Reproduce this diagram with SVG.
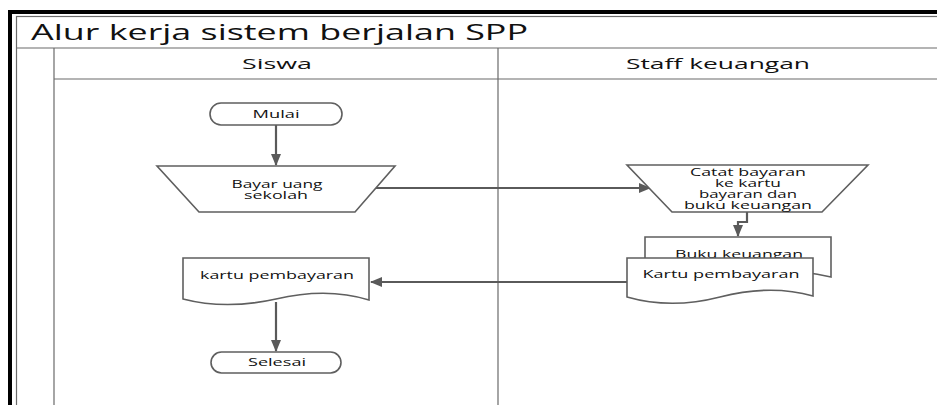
<svg xmlns="http://www.w3.org/2000/svg" width="937" height="405" viewBox="0 0 937 405">
<style>
.shape{fill:#fff;stroke:#5f5f5f;stroke-width:1.6}
.lane{fill:none;stroke:#6a6a6a;stroke-width:1.2}
.conn{fill:none;stroke:#5a5a5a;stroke-width:2.2}
.t{font-family:"Open Sans","DejaVu Sans",sans-serif;font-size:10px;fill:#111;text-anchor:middle}
.h{font-family:"Open Sans","DejaVu Sans",sans-serif;font-size:15px;fill:#111;text-anchor:middle}
</style>
<defs>
<marker id="ah" markerWidth="12" markerHeight="10" refX="11" refY="5" orient="auto" markerUnits="userSpaceOnUse" viewBox="0 0 12 10">
<path d="M0,0 L12,5 L0,10 Z" fill="#5a5a5a"/>
</marker>
</defs>
<rect width="937" height="405" fill="#fff"/>
<g id="pool">
<path d="M10,405 V12 H937" fill="none" stroke="#000" stroke-width="4"/>
<rect x="16.5" y="16.5" width="930" height="400" fill="none" stroke="#6a6a6a" stroke-width="1.2"/>
<line class="lane" x1="16" y1="48" x2="937" y2="48"/>
<line class="lane" x1="54" y1="79" x2="937" y2="79" stroke-width="2"/>
<line class="lane" x1="54" y1="48" x2="54" y2="405"/>
<line class="lane" x1="498" y1="48" x2="498" y2="405"/>
<text x="31" y="40" font-family="'Open Sans','DejaVu Sans',sans-serif" font-size="21" fill="#111" textLength="497" lengthAdjust="spacingAndGlyphs">Alur kerja sistem berjalan SPP</text>
<text class="h" x="277" y="69" textLength="70" lengthAdjust="spacingAndGlyphs">Siswa</text>
<text class="h" x="718" y="69" textLength="184" lengthAdjust="spacingAndGlyphs">Staff keuangan</text>
</g>
<g id="connectors">
<line class="conn" x1="276" y1="125" x2="276" y2="165" marker-end="url(#ah)"/>
<line class="conn" x1="376" y1="188" x2="650" y2="188" marker-end="url(#ah)"/>
<polyline class="conn" points="747,212 747,222 738,222 738,236" marker-end="url(#ah)"/>
<line class="conn" x1="627" y1="282" x2="371" y2="282" marker-end="url(#ah)"/>
<line class="conn" x1="276" y1="302" x2="276" y2="351" marker-end="url(#ah)"/>
</g>
<g id="mulai">
<rect class="shape" x="210" y="103" width="132" height="22" rx="11"/>
<text class="t" x="276" y="117.5" textLength="47" lengthAdjust="spacingAndGlyphs">Mulai</text>
</g>
<g id="bayar">
<polygon class="shape" points="157,166 395,166 355,212 199,212"/>
<text class="t" x="277" y="188" textLength="91" lengthAdjust="spacingAndGlyphs">Bayar uang</text>
<text class="t" x="276" y="199" textLength="64" lengthAdjust="spacingAndGlyphs">sekolah</text>
</g>
<g id="catat">
<polygon class="shape" points="627,165 868,165 822,212 672,212"/>
<text class="t" x="748" y="176" textLength="116" lengthAdjust="spacingAndGlyphs">Catat bayaran</text>
<text class="t" x="748" y="187" textLength="66" lengthAdjust="spacingAndGlyphs">ke kartu</text>
<text class="t" x="748" y="198" textLength="98" lengthAdjust="spacingAndGlyphs">bayaran dan</text>
<text class="t" x="748" y="209" textLength="128" lengthAdjust="spacingAndGlyphs">buku keuangan</text>
</g>
<g id="buku">
<path class="shape" d="M645,237 H831 V277 C800,270 770,268 740,275 C705,283 670,284 645,276 Z"/>
<text class="t" x="739" y="258" textLength="128" lengthAdjust="spacingAndGlyphs">Buku keuangan</text>
</g>
<g id="kartu-staff">
<path class="shape" d="M627,258 H813 V296 C785,288 755,288 720,297 C685,306 655,305 627,297 Z"/>
<text class="t" x="721" y="278" textLength="157" lengthAdjust="spacingAndGlyphs">Kartu pembayaran</text>
</g>
<g id="kartu-siswa">
<path class="shape" d="M183,258 H369 V300 C340,291 310,291 276,299 C240,307 210,306 183,299 Z"/>
<text class="t" x="277" y="279" textLength="154" lengthAdjust="spacingAndGlyphs">kartu pembayaran</text>
</g>
<g id="selesai">
<rect class="shape" x="211" y="352" width="130" height="21" rx="10.5"/>
<text class="t" x="277" y="366" textLength="58" lengthAdjust="spacingAndGlyphs">Selesai</text>
</g>
</svg>
